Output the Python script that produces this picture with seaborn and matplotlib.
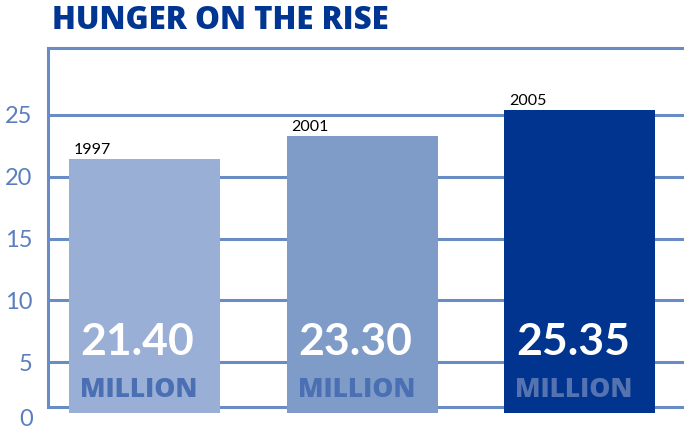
import matplotlib
matplotlib.use("Agg")
import matplotlib.pyplot as plt
import matplotlib.transforms as mtransforms
import seaborn as sns
import pandas as pd

# ---- data ----
years = ["1997", "2001", "2005"]
values = [21.40, 23.30, 25.35]
value_labels = ["21.40", "23.30", "25.35"]
unit_label = "MILLION"
yticks = [5, 10, 15, 20, 25]
title = "HUNGER ON THE RISE"

bar_colors = ["#9aafd5", "#7f9cc9", "#00348f"]
unit_colors = ["#4b6fb3", "#4b6fb3", "#5573b0"]
line_color = "#6a8cc4"
tick_color = "#5b7ebf"
title_color = "#003591"

sns.set_theme(style="white")
plt.rcParams["font.family"] = ["Lato", "DejaVu Sans"]

fig = plt.figure(figsize=(6.84, 4.29), dpi=100)
ax = fig.add_axes([48 / 684, 16 / 429, 1 - 48 / 684, (413 - 48) / 429])

df = pd.DataFrame({"year": years, "value": values})
sns.barplot(data=df, x="year", y="value", hue="year", palette=bar_colors,
            width=0.694, legend=False, ax=ax, saturation=1, zorder=3,
            linewidth=0, edgecolor="none")

ax.set_xlim(-0.443, 2.478)
ax.set_ylim(0.9, 30.4)
ax.set_yticks(yticks)
ax.set_yticklabels([str(t) for t in yticks])
ax.set_xticks([])
ax.set_xlabel("")
ax.set_ylabel("")

ax.yaxis.grid(True, color=line_color, linewidth=2.2, zorder=1)
ax.set_axisbelow(True)
ax.tick_params(axis="y", length=0, pad=11, labelsize=17, labelcolor=tick_color)

# "0" label at the base
zero = ax.text(-0.443, 0.4, "0", ha="right", va="center",
               fontsize=17, color=tick_color, clip_on=False)
zero.set_transform(ax.transData + mtransforms.ScaledTranslation(-11 / 72, 0, fig.dpi_scale_trans))

# bottom baseline line
ax.axhline(1.4, color=line_color, linewidth=2.2, zorder=1)

for side in ["right", "bottom"]:
    ax.spines[side].set_visible(False)
for side in ["left", "top"]:
    ax.spines[side].set_color(line_color)
    ax.spines[side].set_linewidth(2.2)
ax.spines["left"].set_bounds(1.4, 30.4)

# labels on bars
trans = mtransforms.blended_transform_factory(ax.transData, ax.transAxes)
for i, patch in enumerate(ax.patches[:len(years)]):
    x0 = patch.get_x()
    xc = x0 + patch.get_width() / 2
    h = patch.get_height()
    ax.annotate(years[i], xy=(x0, h), xytext=(5, 5), textcoords="offset pixels",
                ha="left", va="baseline", fontsize=11.5, color="black")
    ax.annotate(value_labels[i], xy=(xc, 0), xycoords=trans, xytext=(-7, 58),
                textcoords="offset pixels", ha="center", va="baseline",
                fontsize=32, fontweight="bold", color="white", zorder=5)
    ax.annotate(unit_label, xy=(xc, 0), xycoords=trans, xytext=(-6, 16),
                textcoords="offset pixels", ha="center", va="baseline",
                fontsize=19, fontweight="heavy", color=unit_colors[i],
                family=["Open Sans", "DejaVu Sans"], zorder=5)

fig.text(52 / 684, 1 - 29 / 429, title, ha="left", va="baseline",
         fontsize=22.5, fontweight="heavy", color=title_color,
         family=["Open Sans", "DejaVu Sans"])

fig.savefig("out.png", dpi=100)
